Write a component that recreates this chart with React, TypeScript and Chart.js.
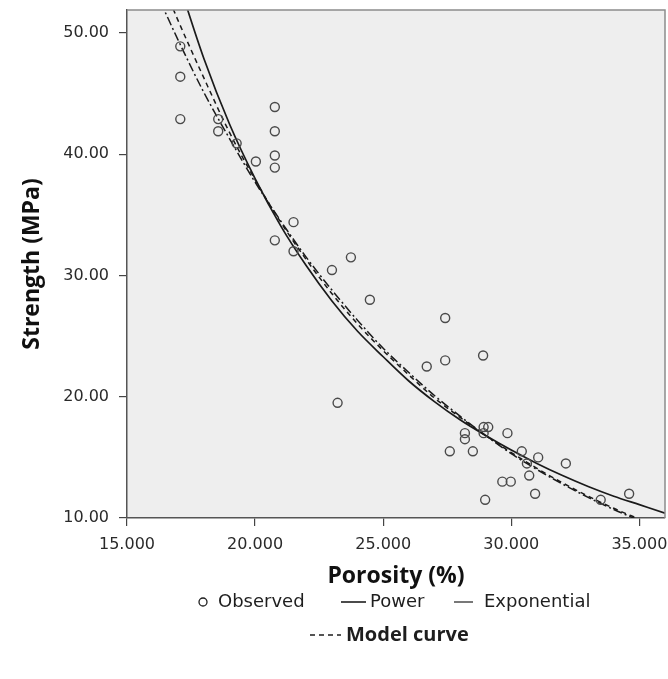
import React, { useEffect, useRef } from 'react';
import { Chart, registerables } from 'chart.js';

Chart.register(...registerables);

// Observed data (Porosity %, Strength MPa)
const porosity = [
  17.08, 17.08, 17.08, 18.56, 18.56, 19.28, 20.03, 20.77, 20.77, 20.77, 20.77, 20.77,
  21.5, 21.5, 23.0, 23.74, 24.48, 23.22, 26.7, 27.42, 27.42, 28.9, 28.92, 29.1,
  28.92, 28.19, 28.19, 27.6, 28.5, 28.98, 29.85, 30.41, 30.61, 31.05, 30.7, 29.65,
  29.98, 30.93, 32.13, 33.49, 34.6,
];
const strength = [
  48.9, 46.4, 42.9, 42.9, 41.9, 40.9, 39.4, 43.9, 41.9, 39.9, 38.9, 32.9,
  34.4, 32.0, 30.45, 31.5, 28.0, 19.5, 22.5, 26.5, 23.0, 23.4, 17.5, 17.5,
  17.0, 17.0, 16.5, 15.5, 15.5, 11.5, 17.0, 15.5, 14.5, 15.0, 13.5, 13.0,
  13.0, 12.0, 14.5, 11.5, 12.0,
];

// Fitted curves
const powerX = [17, 18, 19, 20, 21, 22, 23, 24, 25, 26, 27, 28, 29, 30, 31, 32, 33, 34, 35, 36];
const powerY = [54.3, 47.9, 42.5, 38.0, 34.1, 30.8, 27.9, 25.4, 23.3, 21.3, 19.6, 18.1, 16.8, 15.6, 14.5, 13.5, 12.6, 11.8, 11.1, 10.4];

const expX = [16.3, 17, 18, 19, 20, 21, 22, 23, 24, 25, 26, 27, 28, 29, 30, 31, 32, 33, 34, 35];
const expY = [52.6, 49.4, 45.1, 41.3, 37.7, 34.5, 31.5, 28.8, 26.3, 24.0, 22.0, 20.1, 18.4, 16.8, 15.3, 14.0, 12.8, 11.7, 10.7, 9.8];

const modelX = [16.8, 17, 18, 19, 20, 21, 22, 23, 24, 25, 26, 27, 28, 29, 30, 31, 32, 33, 34, 35];
const modelY = [52.0, 51.0, 46.3, 41.8, 37.9, 34.4, 31.3, 28.5, 26.0, 23.8, 21.8, 19.9, 18.3, 16.8, 15.4, 14.1, 12.9, 11.8, 10.8, 9.9];

const seriesNames = ['Observed', 'Power', 'Exponential', 'Model curve'];
const xTitle = 'Porosity (%)';
const yTitle = 'Strength (MPa)';

const toPts = (xs: number[], ys: number[]) => xs.map((x, i) => ({ x, y: ys[i] }));

const bgPlugin = {
  id: 'bgPlugin',
  beforeDraw(chart: any) {
    const { ctx, chartArea: a } = chart;
    ctx.save();
    ctx.fillStyle = '#ffffff';
    ctx.fillRect(0, 0, chart.width, chart.height);
    ctx.fillStyle = '#eeeeee';
    ctx.fillRect(a.left, a.top, a.right - a.left, a.bottom - a.top);
    ctx.restore();
  },
  afterDraw(chart: any) {
    const { ctx, chartArea: a } = chart;
    ctx.save();
    ctx.strokeStyle = '#8c8c8c';
    ctx.lineWidth = 1.5;
    ctx.beginPath();
    ctx.moveTo(a.left, a.top);
    ctx.lineTo(a.right, a.top);
    ctx.lineTo(a.right, a.bottom);
    ctx.stroke();
    ctx.restore();
  },
};

const legendPlugin = {
  id: 'customLegend',
  afterDraw(chart: any) {
    const ctx = chart.ctx;
    ctx.save();
    ctx.fillStyle = '#1e1e1e';
    ctx.strokeStyle = '#1e1e1e';
    ctx.textBaseline = 'middle';
    ctx.textAlign = 'left';
    ctx.font = '18px "DejaVu Sans"';
    const y1 = 602;
    // Observed
    ctx.lineWidth = 1.3;
    ctx.beginPath();
    ctx.arc(203, y1, 4, 0, Math.PI * 2);
    ctx.stroke();
    ctx.fillText(seriesNames[0], 218, y1);
    // Power
    ctx.lineWidth = 1.6;
    ctx.beginPath();
    ctx.moveTo(341, y1);
    ctx.lineTo(366, y1);
    ctx.stroke();
    ctx.fillText(seriesNames[1], 370, y1);
    // Exponential
    ctx.lineWidth = 1.2;
    ctx.beginPath();
    ctx.moveTo(454, y1);
    ctx.lineTo(473, y1);
    ctx.stroke();
    ctx.fillText(seriesNames[2], 484, y1);
    // Model curve
    const y2 = 635;
    ctx.lineWidth = 1.5;
    ctx.setLineDash([5, 4]);
    ctx.beginPath();
    ctx.moveTo(310, y2);
    ctx.lineTo(341, y2);
    ctx.stroke();
    ctx.setLineDash([]);
    ctx.font = 'bold 20px "Open Sans"';
    ctx.fillText(seriesNames[3], 346, y2);
    ctx.restore();
  },
};

export default function App() {
  const ref = useRef<HTMLCanvasElement>(null);
  useEffect(() => {
    document.body.style.margin = '0';
    const canvas = ref.current;
    if (!canvas) return;
    const tickFont = { family: '"DejaVu Sans"', size: 16 };
    const titleFont = { family: '"Open Sans"', size: 23, weight: 'bold' as const };
    const zeroPad = () => ({ left: 0, right: 0, top: 0, bottom: 0 });
    const lineCommon = {
      showLine: true,
      pointRadius: 0,
      pointHoverRadius: 0,
      fill: false,
      borderColor: '#1a1a1a',
      backgroundColor: 'rgba(0,0,0,0)',
      cubicInterpolationMode: 'monotone' as const,
    };
    const chart = new Chart(canvas, {
      type: 'scatter',
      data: {
        datasets: [
          {
            label: seriesNames[0],
            data: toPts(porosity, strength),
            pointStyle: 'circle',
            pointRadius: 4.5,
            pointBorderWidth: 1.4,
            borderColor: '#4a4a4a',
            backgroundColor: 'rgba(0,0,0,0)',
          } as any,
          { ...lineCommon, label: seriesNames[1], data: toPts(powerX, powerY), borderWidth: 1.7 } as any,
          { ...lineCommon, label: seriesNames[2], data: toPts(expX, expY), borderWidth: 1.5, borderDash: [9, 3, 2, 3] } as any,
          { ...lineCommon, label: seriesNames[3], data: toPts(modelX, modelY), borderWidth: 1.5, borderDash: [5, 4] } as any,
        ],
      },
      options: {
        responsive: false,
        animation: false,
        layout: { autoPadding: false, padding: { top: 10, right: 3, bottom: 89, left: 0 } },
        plugins: { legend: { display: false }, tooltip: { enabled: false } },
        scales: {
          x: {
            type: 'linear',
            min: 15,
            max: 36,
            ticks: {
              stepSize: 5,
              includeBounds: false,
              maxRotation: 0,
              autoSkip: false,
              padding: 9,
              color: '#2a2a2a',
              font: tickFont,
              callback: (v: any) => Number(v).toFixed(3),
            },
            grid: { drawOnChartArea: false, drawTicks: true, tickLength: 8, color: '#444', lineWidth: 1.2 },
            border: { color: '#555', width: 1.5 },
            title: { display: true, text: xTitle, color: '#111', font: titleFont, padding: { top: 0, bottom: 0 } },
            afterFit: (s: any) => {
              s.height = 72;
              s.paddingLeft = 0;
              s.paddingRight = 0;
              s.getPadding = zeroPad;
            },
          },
          y: {
            type: 'linear',
            min: 10,
            max: 51.9,
            ticks: {
              stepSize: 10,
              includeBounds: false,
              padding: 10,
              color: '#2a2a2a',
              font: tickFont,
              callback: (v: any) => Number(v).toFixed(2),
            },
            grid: { drawOnChartArea: false, drawTicks: true, tickLength: 8, color: '#444', lineWidth: 1.2 },
            border: { color: '#555', width: 1.5 },
            title: { display: true, text: yTitle, color: '#111', font: titleFont, padding: { top: 19, bottom: 0 } },
            afterFit: (s: any) => {
              s.width = 127;
              s.paddingTop = 0;
              s.paddingBottom = 0;
              s.getPadding = zeroPad;
            },
          },
        },
      } as any,
      plugins: [bgPlugin, legendPlugin],
    });
    return () => chart.destroy();
  }, []);
  return (
    <div style={{ width: 668, height: 679 }}>
      <canvas ref={ref} width={668} height={679} style={{ display: 'block' }} />
    </div>
  );
}
